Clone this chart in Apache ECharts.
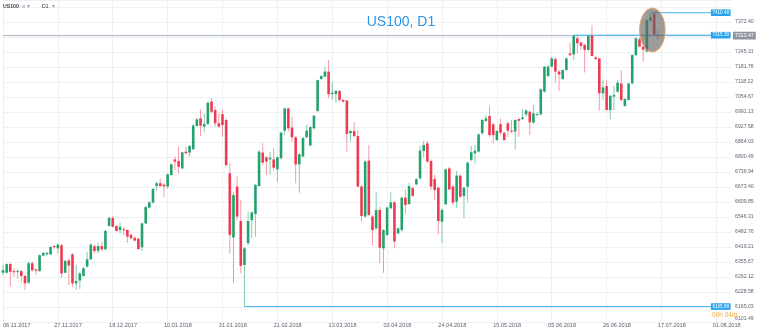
<!DOCTYPE html>
<html>
<head>
<meta charset="utf-8">
<script src="https://cdn.jsdelivr.net/npm/echarts@6/dist/echarts.min.js"></script>
<style>
html,body{margin:0;padding:0;background:#fff;}
#c{width:760px;height:331px;}
</style>
</head>
<body>
<div id="c"></div>
<script>
// ---------- DATA ----------
const symbolName = 'US100';
const timeframe = 'D1';
const xTickLabels = ['06.11.2017','27.11.2017','18.12.2017','10.01.2018','31.01.2018','21.02.2018','13.03.2018','03.04.2018','24.04.2018','15.05.2018','05.06.2018','26.06.2018','17.07.2018','01.08.2018'];
const yTickLabels = ['6101.49','6165.03','6228.58','6292.12','6355.67','6419.21','6482.76','6546.31','6609.85','6673.40','6736.94','6800.49','6864.03','6927.58','6991.13','7054.67','7118.22','7181.76','7245.31','7308.86','7372.40'];

const opens = [6309,6309,6346,6316,6315,6316,6295,6267,6349,6323,6316,6381,6387,6387,6422,6412,6425,6309,6361,6387,
6264,6276,6295,6335,6366,6421,6402,6422,6408,6507,6541,6507,6490,6493,6490,6469,6457,6453,6417,6518,
6585,6606,6676,6688,6682,6674,6723,6789,6782,6751,6822,6818,6832,6931,6963,6928,6939,7034,6998,6942,
6981,6956,6730,6458,6674,6528,6342,6434,6532,6558,6676,6818,6798,6789,6789,6747,6794,6911,7005,6924,
6883,6768,6801,6883,6848,6921,6994,7130,7140,7161,7066,7066,7079,7041,7038,6900,6909,6888,6674,6547,
6784,6547,6497,6575,6412,6469,6582,6607,6476,6490,6627,6600,6667,6683,6709,6825,6857,6782,6706,6669,
6525,6599,6751,6674,6610,6720,6634,6674,6787,6815,6822,6900,6952,6973,6938,6871,6938,6902,6942,6911,
6907,6960,6960,6980,6991,6945,6977,6980,7076,7142,7182,7214,7161,7130,7168,7238,7234,7302,7284,7274,
7253,7313,7221,7217,7069,7100,6998,7055,7076,7111,7015,7041,7111,7231,7298,7267,7246,7377,7405,7316];
const highs = [6342,6349,6350,6328,6323,6320,6299,6356,6356,6327,6386,6397,6398,6422,6426,6432,6431,6363,6370,6391,
6342,6313,6335,6398,6433,6426,6436,6441,6490,6546,6549,6511,6521,6504,6494,6476,6462,6457,6521,6592,
6613,6668,6695,6709,6688,6730,6772,6801,6843,6822,6843,6850,6938,6963,7001,6984,7034,7048,7013,6984,
6998,6963,6772,6650,6716,6617,6419,6568,6568,6685,6829,6857,6803,6822,6836,6803,6907,7008,7008,6970,
6888,6815,6885,6935,6930,6977,7128,7145,7182,7210,7118,7083,7083,7044,7041,6914,6949,6914,6681,6787,
6850,6553,6652,6589,6493,6589,6652,6613,6501,6631,6662,6690,6674,6711,6847,6868,6868,6789,6723,6673,
6582,6751,6758,6681,6741,6727,6673,6780,6846,6850,6899,6960,6977,7015,6944,6914,6963,6906,6949,6956,
6959,6967,7001,7001,6996,7020,6991,7090,7184,7189,7224,7224,7168,7171,7221,7281,7315.30,7314,7290,7280,
7315,7358,7227,7220,7128,7125,7062,7100,7125,7165,7048,7114,7235,7306,7306,7270,7383,7408,7410.48,7337];
const lows = [6299,6306,6250,6292,6285,6267,6236,6264,6313,6299,6313,6378,6381,6384,6408,6391,6288,6306,6257,6250,
6236,6239,6292,6330,6363,6391,6391,6402,6405,6504,6501,6483,6476,6469,6436,6450,6441,6407,6401,6515,
6580,6603,6657,6674,6631,6667,6719,6744,6730,6747,6811,6801,6829,6928,6888,6907,6935,6984,6928,6921,
6885,6761,6391,6264,6532,6306,6165.68,6426,6455,6462,6674,6765,6723,6723,6741,6695,6789,6892,6907,6864,
6688,6648,6798,6878,6845,6916,6990,7125,7137,7048,7041,7029,7034,7029,6822,6864,6882,6671,6525,6543,
6549,6426,6490,6349,6309,6462,6578,6412,6472,6483,6561,6596,6631,6679,6704,6798,6775,6659,6617,6472,
6434,6596,6659,6596,6582,6627,6539,6610,6779,6772,6818,6893,6949,6885,6857,6867,6892,6868,6885,6902,
6832,6885,6956,6970,6892,6939,6970,6976,7072,7137,7179,7114,7079,7126,7163,7227,7210,7238,7252,7157,
7249,7224,7210,6996,7041,6998,6959,6998,7072,7034,7012,7038,7108,7227,7264,7203,7242,7372,7314,7295];
const closes = [6320,6346,6313,6311,6317,6295,6264,6349,6320,6318,6383,6393,6393,6418,6417,6428,6306,6359,6340,6264,
6274,6306,6328,6366,6428,6401,6422,6408,6486,6541,6504,6486,6504,6491,6462,6455,6445,6409,6518,6587,
6607,6664,6688,6676,6675,6726,6768,6780,6758,6819,6815,6846,6933,6959,6932,6939,7029,6991,6942,6928,
6935,6765,6469,6638,6547,6338,6412,6528,6565,6681,6822,6775,6780,6796,6754,6798,6902,7005,6921,6883,
6768,6811,6880,6911,6926,6974,7125,7142,7161,7065,7072,7079,7041,7034,6897,6909,6888,6674,6549,6780,
6554,6490,6575,6415,6490,6585,6607,6441,6497,6627,6596,6676,6635,6705,6826,6850,6780,6674,6659,6528,
6575,6747,6662,6606,6721,6631,6669,6775,6819,6826,6895,6956,6963,6892,6892,6909,6902,6871,6911,6907,
6956,6953,6967,6996,6946,6984,6981,7086,7182,7182,7217,7161,7149,7168,7217,7231,7312,7281,7270,7253,
7313,7227,7214,7069,7094,6998,7058,7062,7114,7041,7045,7111,7231,7302,7267,7253,7380,7391,7319,7313.47];

// annotations (price levels drawn on the chart)
const currentPrice = 7313.47;
const rayLevels = [
  {from: 177, value: 7410.48, label: '7410.48'},
  {from: 156, value: 7315.30, label: '7315.30'},
  {from: 66,  value: 6165.68, label: '6165.68'}
];
const countdownText = ['09h', ' 04m'];
const highlightZone = {fromIndex: 173.6, toIndex: 180.7, low: 7244, high: 7430};

// ---------- CHART ----------
const N_CAT = 200;
const categories = Array.from({length: N_CAT}, (_, i) => String(i));
const Y_INT = 63.545, Y_MIN = 96 * 63.545, Y_MAX = 7464.36;
const UP = '#23a26c', DOWN = '#ee3a51';
const UPW = 'rgba(35,162,108,0.55)', DOWNW = 'rgba(238,58,81,0.5)';
const BLUE = '#42b4f0';
const FONT = '"Liberation Sans", Arial, sans-serif';

const candleData = opens.map((o, i) => [i, o, closes[i], lows[i], highs[i]]);

function renderCandle(params, api) {
  const i = api.value(0), o = api.value(1), c = api.value(2), l = api.value(3), h = api.value(4);
  const pO = api.coord([i, o]), pC = api.coord([i, c]), pL = api.coord([i, l]), pH = api.coord([i, h]);
  const up = c >= o;
  const w = 2.6;
  const top = Math.min(pO[1], pC[1]), bot = Math.max(pO[1], pC[1]);
  return {
    type: 'group',
    children: [
      {type: 'line', shape: {x1: pO[0], y1: pH[1], x2: pO[0], y2: pL[1]}, style: {stroke: up ? UPW : DOWNW, lineWidth: 1}},
      {type: 'rect', shape: {x: pO[0] - w / 2, y: top, width: w, height: Math.max(bot - top, 1)}, style: {fill: up ? UP : DOWN}}
    ]
  };
}

const chart = echarts.init(document.getElementById('c'), null, {renderer: 'canvas'});

const series = [
  {
    type: 'line', data: [[0, currentPrice], [N_CAT - 1, currentPrice]],
    symbol: 'none', silent: true, lineStyle: {color: '#aab4c0', width: 1}, z: 1
  }
];
rayLevels.forEach(r => {
  series.push({
    type: 'line', data: [[r.from, r.value], [N_CAT - 1, r.value]],
    symbol: 'none', silent: true, lineStyle: {color: BLUE, width: 1}, z: 2
  });
});
series.push({
  type: 'custom', renderItem: renderCandle, data: candleData,
  encode: {x: 0, y: [1, 2, 3, 4]}, z: 3, clip: false
});

chart.setOption({
  animation: false,
  textStyle: {fontFamily: FONT},
  grid: {left: 2.7, right: 29, top: 0, bottom: 9.02, containLabel: false},
  xAxis: {
    type: 'category', data: categories, boundaryGap: false,
    axisLine: {show: false}, axisTick: {show: false},
    splitLine: {show: true, interval: (i) => i % 15 === 0, lineStyle: {color: '#eef1f4', width: 1}},
    axisLabel: {
      interval: (i) => i === 0 || ((i + 1) % 15 === 0 && (i + 1) / 15 < xTickLabels.length),
      formatter: (v, i) => i === 0 ? xTickLabels[0] : (xTickLabels[(i + 1) / 15] || ''),
      align: 'left', fontSize: 5.6, color: '#5d6570', margin: 0.5,
      showMinLabel: true, showMaxLabel: true, hideOverlap: false
    }
  },
  yAxis: {
    type: 'value', position: 'right', min: Y_MIN, max: Y_MAX, interval: Y_INT, scale: true,
    axisLine: {show: false}, axisTick: {show: false},
    splitLine: {show: true, lineStyle: {color: '#eef1f4', width: 1}},
    axisLabel: {
      fontSize: 5.2, color: '#5d6570', margin: 4, align: 'left', showMaxLabel: false,
      rich: {lift: {fontSize: 5.2, color: '#5d6570', padding: [0, 0, 6, 0]}},
      formatter: (v) => {
        const k = Math.round((v - Y_MIN) / Y_INT);
        if (!(k >= 0 && k < yTickLabels.length && Math.abs(v - (Y_MIN + k * Y_INT)) < 1)) return '';
        return k === 0 ? '{lift|' + yTickLabels[k] + '}' : yTickLabels[k];
      }
    }
  },
  series: series
});

// pixel helpers from data values
function px(idx, val) { return chart.convertToPixel({xAxisIndex: 0, yAxisIndex: 0}, [idx, val]); }
const gridRight = px(N_CAT - 1, currentPrice)[0];

const graphics = [];
// header
graphics.push({type: 'text', left: 3, top: 4, style: {text: symbolName, fontSize: 5.2, fontWeight: 'bold', fill: '#3a3f47', fontFamily: FONT}});
graphics.push({type: 'text', left: 22, top: 3.5, style: {text: '\u2261 \u25BE', fontSize: 5.5, fill: '#9aa2ad', fontFamily: FONT}});
graphics.push({type: 'text', left: 42, top: 4, style: {text: timeframe, fontSize: 5.2, fill: '#3a3f47', fontFamily: FONT}});
graphics.push({type: 'text', left: 52, top: 3.5, style: {text: '\u25BE', fontSize: 5.5, fill: '#9aa2ad', fontFamily: FONT}});
// title
graphics.push({type: 'text', x: 401, y: 22, style: {text: symbolName + ', ' + timeframe, fontSize: 14, fill: '#2b95e8', fontFamily: FONT, textAlign: 'center', textVerticalAlign: 'middle'}});

// highlight ellipse
const e1 = px(highlightZone.fromIndex, highlightZone.high);
const e2 = px(highlightZone.toIndex, highlightZone.low);
graphics.push({
  type: 'ellipse', z: 10,
  shape: {cx: (e1[0] + e2[0]) / 2, cy: (e1[1] + e2[1]) / 2, rx: Math.abs(e2[0] - e1[0]) / 2, ry: Math.abs(e2[1] - e1[1]) / 2},
  style: {fill: 'rgba(95,95,95,0.62)', stroke: '#f2a65a', lineWidth: 1}
});

// ray labels
rayLevels.forEach(r => {
  const p = px(N_CAT - 1, r.value);
  graphics.push({
    type: 'text', z: 20, x: gridRight - 0.5, y: p[1],
    style: {text: r.label, fontSize: 4.6, fill: '#ffffff', backgroundColor: '#27a4ee', padding: [1, 1.5, 0.6, 1.5],
            textAlign: 'right', textVerticalAlign: 'middle', fontFamily: FONT}
  });
});
// current price label
const cp = px(N_CAT - 1, currentPrice);
graphics.push({
  type: 'text', z: 21, x: gridRight + 2, y: cp[1],
  style: {text: currentPrice.toFixed(2), fontSize: 5.2, fill: '#ffffff', backgroundColor: '#8f969e', padding: [1.6, 2, 1.2, 2],
          textAlign: 'left', textVerticalAlign: 'middle', fontFamily: FONT}
});
// countdown
const lowRay = px(N_CAT - 1, rayLevels[2].value);
graphics.push({
  type: 'text', z: 20, x: gridRight - 19, y: lowRay[1] + 9,
  style: {
    text: '{a|' + countdownText[0] + '}{a|' + countdownText[1] + '}',
    rich: {a: {fontSize: 6.5, fill: '#f5a83a', fontFamily: FONT}},
    textAlign: 'left', textVerticalAlign: 'middle'
  }
});

chart.setOption({graphic: graphics});
</script>
</body>
</html>
